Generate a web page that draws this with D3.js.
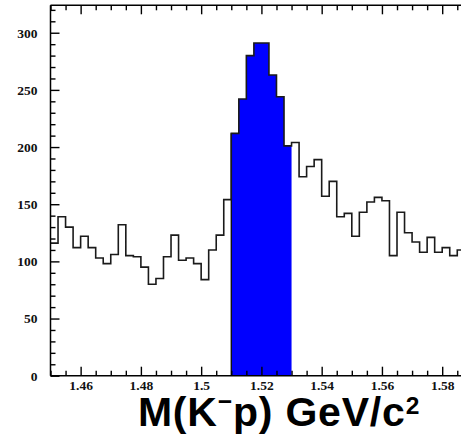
<!DOCTYPE html>
<html>
<head>
<meta charset="utf-8">
<script src="https://cdn.jsdelivr.net/npm/d3@7"></script>
<style>
  html, body { margin: 0; padding: 0; background: #fff; }
  svg { display: block; }
  .tick text { font-family: "Liberation Serif", "Times New Roman", serif; font-weight: bold; fill: #111; }
</style>
</head>
<body>
<div id="chart"></div>
<script>
// Invariant-mass histogram of K⁻p candidates, 2.5 MeV bins from 1.45 GeV
const binStart = 1.45;
const binWidth = 0.0025;
const counts = [
  116, 139, 130, 112, 122, 112, 103, 98, 106, 132, 105, 104, 95, 80, 85, 104,
  123, 101, 103, 98, 84, 110, 123, 154,
  212, 242, 280, 291, 291, 263, 244, 201,
  204, 174, 183, 189, 157, 170, 139, 142, 122, 143, 152, 156, 153, 105, 143,
  125, 117, 108, 121, 108, 112, 105, 110
];
// Signal window shaded in blue
const signalWindow = [1.51, 1.53];
// Axis ticks
const xMajorTicks = [1.46, 1.48, 1.5, 1.52, 1.54, 1.56, 1.58];
const xTickLabels = ["1.46", "1.48", "1.5", "1.52", "1.54", "1.56", "1.58"];
const yMajorTicks = [0, 50, 100, 150, 200, 250, 300];
const yTickLabels = ["0", "50", "100", "150", "200", "250", "300"];

const W = 461, H = 442;
const padL = 50.5, padT = 5.3, baseY = 375.7, rightEdge = 464.8;

const svg = d3.select("#chart").append("svg")
  .attr("width", W).attr("height", H);

const bins = counts.map((c, i) => ({
  x0: binStart + i * binWidth,
  x1: binStart + (i + 1) * binWidth,
  n: c
}));
const xEnd = bins[bins.length - 1].x1;

const x = d3.scaleLinear().domain([binStart, xEnd]).range([padL, rightEdge]);
const y = d3.scaleLinear().domain([0, 324]).range([baseY, padT]);

const plot = svg.append("g");

// shaded signal bins
const eps = 1e-9;
const sig = bins.filter(b => b.x0 >= signalWindow[0] - eps && b.x1 <= signalWindow[1] + eps);
const sigPts = sig.map(b => [b.x0, b.n]).concat([[sig[sig.length - 1].x1, sig[sig.length - 1].n]]);
plot.append("path")
  .attr("d", d3.area()
    .x(d => x(d[0])).y0(y(0)).y1(d => y(d[1]))
    .curve(d3.curveStepAfter)(sigPts))
  .attr("fill", "#0000ff");
plot.append("line")
  .attr("x1", x(signalWindow[0])).attr("x2", x(signalWindow[0]))
  .attr("y1", y(0)).attr("y2", y(sig[0].n))
  .attr("stroke", "#111").attr("stroke-width", 1.4);

// histogram outline
const pts = bins.map(b => [b.x0, b.n]).concat([[xEnd, bins[bins.length - 1].n]]);
plot.append("path")
  .attr("d", d3.line().x(d => x(d[0])).y(d => y(d[1])).curve(d3.curveStepAfter)(pts))
  .attr("fill", "none")
  .attr("stroke", "#1a1a1a")
  .attr("stroke-width", 1.6);

// minor tick positions
const xMinor = d3.range(0, 28).map(i => +(binStart + i * 0.005).toFixed(4))
  .filter(v => !xMajorTicks.some(m => Math.abs(m - v) < 1e-6));
const yMinor = d3.range(0, 33).map(i => i * 10).filter(v => v % 50 !== 0);

function styleAxis(g) {
  g.select(".domain").remove();
  g.selectAll(".tick line").attr("stroke", "#000").attr("stroke-width", 1.4);
}

// bottom axis
svg.append("g").attr("transform", `translate(0,${baseY})`)
  .call(d3.axisBottom(x).tickValues(xMinor).tickSizeInner(-5).tickFormat(""))
  .call(styleAxis);
svg.append("g").attr("transform", `translate(0,${baseY})`)
  .call(d3.axisBottom(x).tickValues(xMajorTicks).tickSizeInner(-9).tickPadding(5)
    .tickFormat((d, i) => xTickLabels[i]))
  .call(styleAxis)
  .selectAll("text").attr("font-size", 13.5);

// top axis (ticks only)
svg.append("g").attr("transform", `translate(0,${padT})`)
  .call(d3.axisTop(x).tickValues(xMinor).tickSizeInner(-5).tickFormat(""))
  .call(styleAxis);
svg.append("g").attr("transform", `translate(0,${padT})`)
  .call(d3.axisTop(x).tickValues(xMajorTicks).tickSizeInner(-9).tickFormat(""))
  .call(styleAxis);

// left axis
svg.append("g").attr("transform", `translate(${padL},0)`)
  .call(d3.axisLeft(y).tickValues(yMinor).tickSizeInner(-5).tickFormat(""))
  .call(styleAxis);
svg.append("g").attr("transform", `translate(${padL},0)`)
  .call(d3.axisLeft(y).tickValues(yMajorTicks).tickSizeInner(-9).tickPadding(13)
    .tickFormat((d, i) => yTickLabels[i]))
  .call(styleAxis)
  .selectAll("text").attr("font-size", 13.5);

// frame lines
const frame = svg.append("g").attr("stroke", "#000").attr("stroke-width", 1.5);
frame.append("line").attr("x1", padL).attr("x2", padL).attr("y1", padT).attr("y2", baseY);
frame.append("line").attr("x1", padL).attr("x2", W).attr("y1", baseY).attr("y2", baseY);
frame.append("line").attr("x1", padL).attr("x2", W).attr("y1", padT).attr("y2", padT);

// axis title with superscript charge and exponent
const titleSize = 41;
const supShift = 12;
const title = svg.append("text")
  .attr("x", 279).attr("y", 426)
  .attr("text-anchor", "middle")
  .attr("font-family", "'Liberation Sans', Arial, sans-serif")
  .attr("font-weight", "bold")
  .attr("font-size", titleSize)
  .attr("letter-spacing", 0.8)
  .attr("fill", "#000");
title.append("tspan").text("M(K");
title.append("tspan").attr("dy", -supShift - 4).attr("font-size", "0.6em").text("\u2212");
title.append("tspan").attr("dy", supShift + 4).text("p) GeV/c");
title.append("tspan").attr("dy", -supShift).attr("font-size", "0.6em").text("2");
</script>
</body>
</html>
